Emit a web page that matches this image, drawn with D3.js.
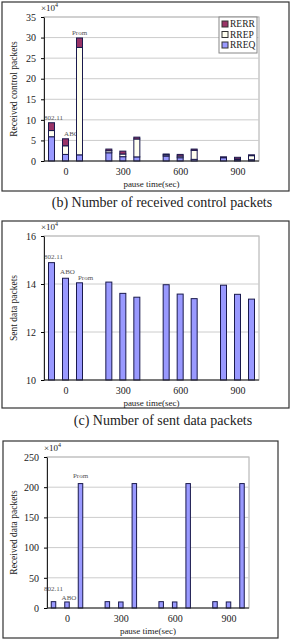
<!DOCTYPE html>
<html>
<head>
<meta charset="utf-8">
<script src="https://cdn.jsdelivr.net/npm/d3@7"></script>
<style>
	body { margin: 0; background: #fff; }
	svg text { font-family: "Liberation Serif", "DejaVu Serif", serif; fill: #222; }
</style>
</head>
<body>
<svg id="chart" width="293" height="640"></svg>
<script>
const pauseTimes = [0, 300, 600, 900];
const protocols = ["802.11", "ABO", "Prom"];
const packetTypes = ["RREQ", "RREP", "RERR"];

// received control packets (x10^4), rows = pause time, cols = protocol
const rreqValues = [[5.9, 1.6, 1.5], [2.0, 1.05, 1.0], [1.2, 0.8, 0.4], [0.8, 0.3, 0.3]];
const rrepValues = [[1.5, 2.1, 26.1], [0.5, 0.65, 4.35], [0.3, 0.4, 2.2], [0.1, 0.2, 1.0]];
const rerrValues = [[1.9, 1.7, 2.3], [0.4, 0.7, 0.45], [0.2, 0.4, 0.3], [0.1, 0.4, 0.2]];

// sent data packets (x10^4)
const sentValues = [[14.89, 14.24, 14.05], [14.08, 13.61, 13.45], [13.97, 13.58, 13.39], [13.95, 13.57, 13.37]];

// received data packets (x10^4)
const recvValues = [[10.5, 10, 206], [10.5, 10, 206], [10.5, 10, 206], [10.5, 10, 206]];

const colors = { RREQ: "#9999ff", RREP: "#fffff0", RERR: "#993366" };
const barStroke = "#1a1a4d";

const svg = d3.select("#chart");

function drawPanel(opt) {
	const g = svg.append("g");

	// outer frame
	g.append("rect")
		.attr("x", opt.frame[0]).attr("y", opt.frame[1])
		.attr("width", opt.frame[2]).attr("height", opt.frame[3])
		.attr("fill", "none").attr("stroke", "#333").attr("stroke-width", 1.2);

	const x = d3.scaleLinear().domain([0, 900]).range(opt.xRange);
	const sub = d3.scalePoint().domain(protocols).range([-opt.step, opt.step]);
	const y = d3.scaleLinear().domain(opt.yDomain).range([opt.plot.bottom, opt.plot.top]);
	const yMin = opt.yDomain[0];

	// plot border and grid
	g.append("rect")
		.attr("x", opt.plot.left).attr("y", opt.plot.top)
		.attr("width", opt.plot.right - opt.plot.left)
		.attr("height", opt.plot.bottom - opt.plot.top)
		.attr("fill", "none").attr("stroke", "#aaa");

	g.selectAll(".grid")
		.data(opt.yTicks)
		.enter().append("line")
		.attr("class", "grid")
		.attr("x1", opt.plot.left).attr("x2", opt.plot.right)
		.attr("y1", d => y(d)).attr("y2", d => y(d))
		.attr("stroke", "#ccc");

	// bars (stacked from zero, clipped at the bottom of the axis)
	pauseTimes.forEach((t, i) => {
		protocols.forEach((p, j) => {
			let base = 0;
			opt.series.forEach(s => {
				const v = s.values[i][j];
				const lo = Math.max(base, yMin);
				g.append("rect")
					.attr("x", x(t) + sub(p) - opt.barW / 2)
					.attr("width", opt.barW)
					.attr("y", y(base + v))
					.attr("height", y(lo) - y(base + v))
					.attr("fill", s.color)
					.attr("stroke", barStroke)
					.attr("stroke-width", 1);
				base += v;
			});
			if (i === 0) {
				const off = opt.labelAt[j];
				g.append("text")
					.attr("x", x(t) + sub(p) + off[0])
					.attr("y", y(base) + off[1])
					.attr("text-anchor", "middle")
					.style("font-size", "7px")
					.style("fill", "#555")
					.text(p);
			}
		});
	});

	// axes
	const yAxis = g.append("g")
		.attr("transform", `translate(${opt.plot.left},0)`)
		.call(d3.axisLeft(y).tickValues(opt.yTicks).tickFormat(d3.format("d"))
			.tickSize(3).tickPadding(5).tickSizeOuter(0));
	yAxis.selectAll("text").style("font-size", "10px").style("font-family", "Liberation Serif");
	yAxis.select(".domain").attr("stroke", "#222");

	const xAxis = g.append("g")
		.attr("transform", `translate(0,${opt.plot.bottom})`)
		.call(d3.axisBottom(x).tickValues(pauseTimes).tickSize(0).tickPadding(7));
	xAxis.select(".domain").remove();
	xAxis.selectAll("text").style("font-size", "10px").style("font-family", "Liberation Serif");
	g.append("line")
		.attr("x1", opt.plot.left).attr("x2", opt.plot.right)
		.attr("y1", opt.plot.bottom).attr("y2", opt.plot.bottom)
		.attr("stroke", "#222");

	// scale note
	const note = g.append("text")
		.attr("x", opt.plot.left - 3)
		.attr("y", opt.plot.top - 6)
		.style("font-size", "9px")
		.text("\u00d710");
	note.append("tspan").attr("dy", -4).style("font-size", "6px").text("4");

	g.append("text")
		.attr("x", (opt.plot.left + opt.plot.right) / 2)
		.attr("y", opt.plot.bottom + 26)
		.attr("text-anchor", "middle")
		.style("font-size", "9px")
		.text("pause time(sec)");

	g.append("text")
		.attr("transform", `translate(17,${(opt.plot.top + opt.plot.bottom) / 2}) rotate(-90)`)
		.attr("text-anchor", "middle")
		.style("font-size", "9.5px")
		.text(opt.yTitle);

	if (opt.caption) {
		svg.append("text")
			.attr("x", opt.caption[1])
			.attr("y", opt.caption[2])
			.attr("text-anchor", "middle")
			.style("font-size", "14px")
			.text(opt.caption[0]);
	}

	if (opt.legend) {
		const lg = g.append("g").attr("transform", "translate(219,17)");
		lg.append("rect").attr("width", 38).attr("height", 36)
			.attr("fill", "#fff").attr("stroke", "#888");
		packetTypes.slice().reverse().forEach((k, i) => {
			lg.append("rect")
				.attr("x", 3).attr("y", 4 + i * 10.5)
				.attr("width", 6).attr("height", 6)
				.attr("fill", colors[k]).attr("stroke", "#333");
			lg.append("text")
				.attr("x", 11).attr("y", 10 + i * 10.5)
				.style("font-size", "9.5px")
				.text(k);
		});
	}
}

drawPanel({
	frame: [2, 2, 287, 189],
	plot: { left: 44, right: 259, top: 17, bottom: 161 },
	xRange: [65.5, 237.5], step: 14, barW: 6,
	yDomain: [0, 35], yTicks: [0, 5, 10, 15, 20, 25, 30, 35],
	series: [
		{ values: rreqValues, color: colors.RREQ },
		{ values: rrepValues, color: colors.RREP },
		{ values: rerrValues, color: colors.RERR }
	],
	labelAt: [[2, -3], [6, -3], [0, -3]],
	yTitle: "Received control packets",
	caption: ["(b) Number of received control packets", 162, 207],
	legend: true
});

drawPanel({
	frame: [2, 221, 287, 187],
	plot: { left: 44, right: 259, top: 236, bottom: 380 },
	xRange: [65.5, 237.5], step: 14, barW: 6,
	yDomain: [10, 16], yTicks: [10, 12, 14, 16],
	series: [{ values: sentValues, color: colors.RREQ }],
	labelAt: [[2, -4], [2, -4], [6, -3]],
	yTitle: "Sent data packets",
	caption: ["(c) Number of sent data packets", 163, 425]
});

drawPanel({
	frame: [3, 441, 275, 197],
	plot: { left: 47, right: 249, top: 457, bottom: 608 },
	xRange: [67, 228.5], step: 13.5, barW: 4.5,
	yDomain: [0, 250], yTicks: [0, 50, 100, 150, 200, 250],
	series: [{ values: recvValues, color: colors.RREQ }],
	labelAt: [[0, -11], [2, -2], [0, -6]],
	yTitle: "Received data packets"
});
</script>
</body>
</html>
